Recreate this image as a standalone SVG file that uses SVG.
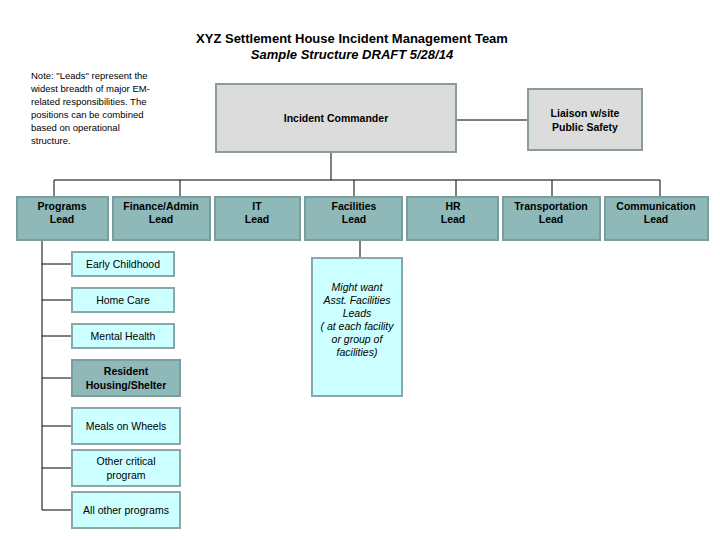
<svg xmlns="http://www.w3.org/2000/svg" width="720" height="540" viewBox="0 0 720 540">
<style>
text{font-family:"Liberation Sans",Arial,sans-serif;font-size:10.5px;fill:#000;text-anchor:middle}
.b{font-weight:bold}
.lead{fill:#8fb9b9;stroke:#7a9e9e;stroke-width:2}
.sub{fill:#ccffff;stroke:#8aa8a8;stroke-width:2}
.gray{fill:#dcdcdc;stroke:#8c9c9c;stroke-width:2}
.c{stroke:#000;stroke-width:1;fill:none}
</style>
<rect width="720" height="540" fill="#fff"/>
<text x="352" y="43" class="b" style="font-size:13px">XYZ Settlement House Incident Management Team</text>
<text x="352" y="59" class="b" style="font-size:13px;font-style:italic">Sample Structure  DRAFT 5/28/14</text>
<g id="note" style="font-size:9.5px">
<text x="31" y="79" text-anchor="start" style="text-anchor:start;font-size:9.5px">Note: "Leads" represent the</text>
<text x="31" y="92" style="text-anchor:start;font-size:9.5px">widest breadth of major EM-</text>
<text x="31" y="105" style="text-anchor:start;font-size:9.5px">related responsibilities. The</text>
<text x="31" y="118" style="text-anchor:start;font-size:9.5px">positions can be combined</text>
<text x="31" y="131" style="text-anchor:start;font-size:9.5px">based on operational</text>
<text x="31" y="144" style="text-anchor:start;font-size:9.5px">structure.</text>
</g>
<g id="connectors" class="c">
<path d="M331 152V180M54 180H660M54 180V197M180 180V197M354 180V197M456 180V197M552 180V197M660 180V197"/>
<path d="M456 120H528"/>
<path d="M42 240V510M42 264H72M42 300H72M42 336H72M42 378H72M42 426H72M42 468H72M42 510H72"/>
<path d="M360 240V258"/>
</g>
<g id="ic"><rect x="216" y="84" width="240" height="68" class="gray"/><text x="336" y="122" class="b">Incident Commander</text></g>
<g id="liaison"><rect x="528" y="89" width="114" height="61" class="gray"/><text x="585" y="117" class="b">Liaison w/site</text><text x="585" y="131" class="b">Public Safety</text></g>
<g id="programs"><rect x="17" y="197" width="91" height="43" class="lead"/><text x="62" y="210" class="b">Programs</text><text x="62" y="223" class="b">Lead</text></g>
<g id="finance"><rect x="113" y="197" width="97" height="43" class="lead"/><text x="161" y="210" class="b">Finance/Admin</text><text x="161" y="223" class="b">Lead</text></g>
<g id="it"><rect x="215" y="197" width="85" height="43" class="lead"/><text x="257" y="210" class="b">IT</text><text x="257" y="223" class="b">Lead</text></g>
<g id="facilities"><rect x="305" y="197" width="97" height="43" class="lead"/><text x="354" y="210" class="b">Facilities</text><text x="354" y="223" class="b">Lead</text></g>
<g id="hr"><rect x="407" y="197" width="91" height="43" class="lead"/><text x="453" y="210" class="b">HR</text><text x="453" y="223" class="b">Lead</text></g>
<g id="transport"><rect x="503" y="197" width="97" height="43" class="lead"/><text x="551" y="210" class="b">Transportation</text><text x="551" y="223" class="b">Lead</text></g>
<g id="comm"><rect x="605" y="197" width="103" height="43" class="lead"/><text x="656" y="210" class="b">Communication</text><text x="656" y="223" class="b">Lead</text></g>
<g id="early"><rect x="72" y="252" width="102" height="24" class="sub"/><text x="123" y="268">Early Childhood</text></g>
<g id="home"><rect x="72" y="288" width="102" height="24" class="sub"/><text x="123" y="304">Home Care</text></g>
<g id="mental"><rect x="72" y="324" width="102" height="24" class="sub"/><text x="123" y="340">Mental Health</text></g>
<g id="resident"><rect x="72" y="360" width="108" height="36" class="lead"/><text x="126" y="375" class="b">Resident</text><text x="126" y="389" class="b">Housing/Shelter</text></g>
<g id="meals"><rect x="72" y="408" width="108" height="36" class="sub"/><text x="126" y="430">Meals on Wheels</text></g>
<g id="other"><rect x="72" y="450" width="108" height="36" class="sub"/><text x="126" y="465">Other critical</text><text x="126" y="479">program</text></g>
<g id="allother"><rect x="72" y="492" width="108" height="36" class="sub"/><text x="126" y="514">All other programs</text></g>
<g id="asst" style="font-style:italic"><rect x="312" y="258" width="90" height="138" class="sub"/>
<text x="357" y="291">Might want</text><text x="357" y="304">Asst. Facilities</text><text x="357" y="317">Leads</text><text x="357" y="330">( at each facility</text><text x="357" y="343">or group of</text><text x="357" y="356">facilities)</text></g>
</svg>
